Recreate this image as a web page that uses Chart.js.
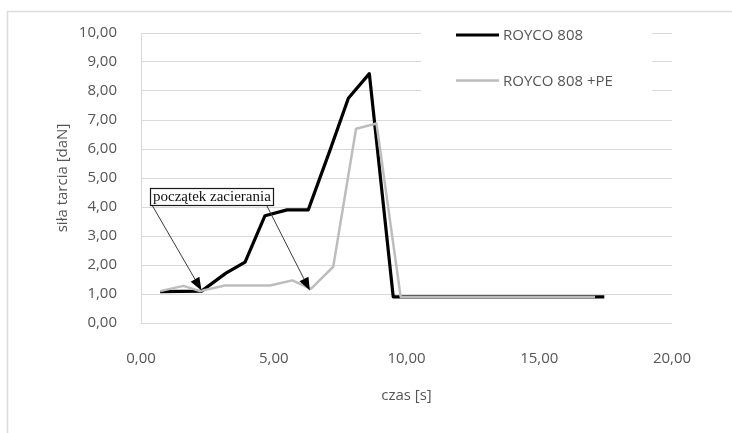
<!DOCTYPE html>
<html>
<head>
<meta charset="utf-8">
<script src="https://cdn.jsdelivr.net/npm/chart.js@4/dist/chart.umd.min.js"></script>
<style>
  html, body { margin: 0; padding: 0; background: #ffffff; }
  #wrap { width: 732px; height: 433px; }
</style>
</head>
<body>
<div id="wrap"><canvas id="c" width="732" height="433"></canvas></div>
<script>
// Friction force over time for the two lubricants
const seriesNames = ['ROYCO 808', 'ROYCO 808 +PE'];
const timeRoyco  = [0.72, 2.28, 3.20, 3.92, 4.67, 5.50, 6.30, 7.12, 7.81, 8.60, 9.50, 17.45];
const forceRoyco = [1.08, 1.10, 1.72, 2.10, 3.70, 3.90, 3.90, 5.96, 7.75, 8.60, 0.90, 0.90];
const timePE     = [0.72, 1.60, 2.22, 3.16, 4.86, 5.70, 6.40, 7.24, 8.10, 8.87, 9.78, 17.10];
const forcePE    = [1.10, 1.28, 1.10, 1.29, 1.29, 1.47, 1.18, 1.94, 6.70, 6.88, 0.90, 0.90];
const xTicks = [0, 5, 10, 15, 20];
const yTicks = [0, 1, 2, 3, 4, 5, 6, 7, 8, 9, 10];

// Callout: label box (top-left corner in axis units) and arrows (from -> to, axis units)
const noteText = 'początek zacierania';
const noteBox = [0.34, 4.66];
const noteArrows = [
  [0.40, 4.09, 2.28, 1.12],
  [4.73, 4.06, 6.36, 1.12]
];

const fmt = v => v.toFixed(2).replace('.', ',');
const toPoints = (xs, ys) => xs.map((x, i) => ({ x: x, y: ys[i] }));

const TEXT = '#555555';
const FONT = "'Open Sans', 'Noto Sans', sans-serif";

const framePlugin = {
  id: 'frame',
  beforeDraw(chart) {
    const ctx = chart.ctx;
    ctx.save();
    ctx.strokeStyle = '#dcdcdc';
    ctx.lineWidth = 1.5;
    ctx.beginPath();
    ctx.moveTo(7.5, chart.height);
    ctx.lineTo(7.5, 11.5);
    ctx.lineTo(chart.width, 11.5);
    ctx.stroke();
    ctx.restore();
  }
};

const calloutPlugin = {
  id: 'callout',
  afterDatasetsDraw(chart) {
    const ctx = chart.ctx, xs = chart.scales.x, ys = chart.scales.y;
    ctx.save();
    // arrows
    noteArrows.forEach(a => {
      const x0 = xs.getPixelForValue(a[0]), y0 = ys.getPixelForValue(a[1]);
      const x1 = xs.getPixelForValue(a[2]), y1 = ys.getPixelForValue(a[3]);
      const ang = Math.atan2(y1 - y0, x1 - x0);
      const len = 13, half = 5;
      const bx = x1 - len * Math.cos(ang), by = y1 - len * Math.sin(ang);
      ctx.strokeStyle = '#3a3a3a';
      ctx.lineWidth = 1;
      ctx.beginPath();
      ctx.moveTo(x0, y0);
      ctx.lineTo(bx, by);
      ctx.stroke();
      ctx.fillStyle = '#000000';
      ctx.beginPath();
      ctx.moveTo(x1, y1);
      ctx.lineTo(bx + half * Math.sin(ang), by - half * Math.cos(ang));
      ctx.lineTo(bx - half * Math.sin(ang), by + half * Math.cos(ang));
      ctx.closePath();
      ctx.fill();
    });
    // label box
    ctx.font = "15px 'Liberation Serif', 'Times New Roman', serif";
    const tw = ctx.measureText(noteText).width;
    const bl = Math.round(xs.getPixelForValue(noteBox[0])) + 0.5;
    const bt = Math.round(ys.getPixelForValue(noteBox[1])) + 0.5;
    const bw = Math.round(tw + 5), bh = 17;
    ctx.fillStyle = '#ffffff';
    ctx.fillRect(bl, bt, bw, bh);
    ctx.strokeStyle = '#1a1a1a';
    ctx.lineWidth = 1.2;
    ctx.strokeRect(bl, bt, bw, bh);
    ctx.fillStyle = '#111111';
    ctx.textBaseline = 'middle';
    ctx.textAlign = 'left';
    ctx.fillText(noteText, bl + 2.5, bt + bh / 2 + 0.5);
    ctx.restore();
  }
};

const legendPlugin = {
  id: 'sideLegend',
  afterDraw(chart) {
    const ctx = chart.ctx;
    ctx.save();
    ctx.fillStyle = '#ffffff';
    ctx.fillRect(421, 13, 231, 82);
    const rows = [35, 80.5];
    chart.data.datasets.forEach((ds, i) => {
      const y = rows[i];
      ctx.strokeStyle = ds.borderColor;
      ctx.lineWidth = ds.borderWidth;
      ctx.beginPath();
      ctx.moveTo(456, y);
      ctx.lineTo(499, y);
      ctx.stroke();
      ctx.fillStyle = TEXT;
      ctx.font = '15px ' + FONT;
      ctx.textBaseline = 'middle';
      ctx.textAlign = 'left';
      ctx.fillText(ds.label, 503, y + 1);
    });
    ctx.restore();
  }
};

new Chart(document.getElementById('c'), {
  type: 'line',
  data: {
    datasets: [
      {
        label: seriesNames[0],
        data: toPoints(timeRoyco, forceRoyco),
        borderColor: '#000000',
        borderWidth: 3.2,
        pointRadius: 0,
        tension: 0,
        order: 1
      },
      {
        label: seriesNames[1],
        data: toPoints(timePE, forcePE),
        borderColor: '#bdbdbd',
        borderWidth: 2.5,
        pointRadius: 0,
        tension: 0,
        order: 0
      }
    ]
  },
  options: {
    responsive: false,
    devicePixelRatio: 1,
    animation: false,
    layout: { padding: { top: 16, right: 60, bottom: 0, left: 0 } },
    plugins: {
      legend: { display: false },
      tooltip: { enabled: false }
    },
    elements: { line: { borderJoinStyle: 'round' } },
    scales: {
      x: {
        type: 'linear',
        min: 0,
        max: 20,
        afterBuildTicks: s => { s.ticks = xTicks.map(v => ({ value: v })); },
        afterFit: s => { s.height = 110; },
        grid: { display: false, drawTicks: false },
        border: { display: false },
        ticks: {
          padding: 27,
          color: TEXT,
          font: { family: FONT, size: 15 },
          maxRotation: 0,
          callback: v => fmt(v)
        },
        title: {
          display: true,
          text: 'czas [s]',
          color: TEXT,
          font: { family: FONT, size: 15 },
          padding: { top: 0, bottom: 28 }
        }
      },
      y: {
        type: 'linear',
        min: 0,
        max: 10,
        afterBuildTicks: s => { s.ticks = yTicks.map(v => ({ value: v })); },
        afterFit: s => { s.width = 141; },
        grid: { color: '#d9d9d9', lineWidth: 1, drawTicks: false },
        border: { display: true, color: '#d9d9d9', width: 1 },
        ticks: {
          padding: 24,
          color: TEXT,
          font: { family: FONT, size: 15 },
          callback: v => fmt(v)
        },
        title: {
          display: true,
          text: 'siła tarcia [daN]',
          color: TEXT,
          font: { family: FONT, size: 15 },
          padding: { top: 54, bottom: 0 }
        }
      }
    }
  },
  plugins: [framePlugin, calloutPlugin, legendPlugin]
});
</script>
</body>
</html>
